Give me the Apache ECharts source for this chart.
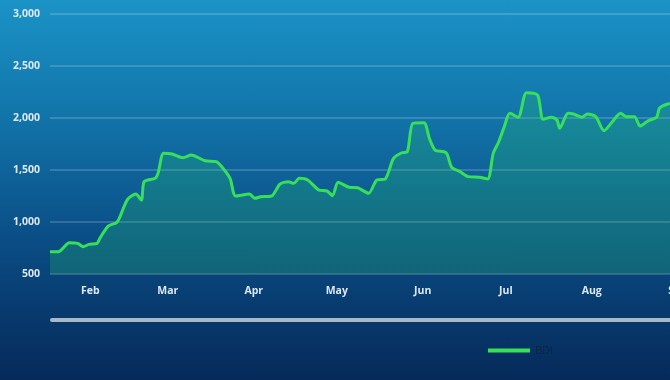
<!DOCTYPE html>
<html>
<head>
<meta charset="utf-8">
<script src="https://cdn.jsdelivr.net/npm/echarts@6/dist/echarts.min.js"></script>
<style>
html,body{margin:0;padding:0;width:670px;height:380px;overflow:hidden;
background:linear-gradient(180deg,#1b93c7 0%,#1275aa 30%,#0b5189 60%,#083c70 80%,#062a5a 100%);}
#c{width:720px;height:380px;}
</style>
</head>
<body>
<div id="c"></div>
<script>
const seriesName = 'BDI';
const monthLabels = ['Jan','Feb','Mar','Apr','May','Jun','Jul','Aug','Sep','Oct','Nov','Dec'];
const yTicks = [500, 1000, 1500, 2000, 2500, 3000];
const dates = [
 '2021-01-18','2021-01-21','2021-01-25','2021-01-28','2021-01-30','2021-02-01','2021-02-04','2021-02-05',
 '2021-02-08','2021-02-11','2021-02-12','2021-02-15','2021-02-18','2021-02-20','2021-02-21','2021-02-25',
 '2021-02-26','2021-02-28','2021-03-03','2021-03-07','2021-03-10','2021-03-15','2021-03-19','2021-03-21',
 '2021-03-24','2021-03-26','2021-03-31','2021-04-02','2021-04-04','2021-04-08','2021-04-11','2021-04-14',
 '2021-04-16','2021-04-18','2021-04-21','2021-04-25','2021-04-28','2021-04-30','2021-05-02','2021-05-06',
 '2021-05-09','2021-05-13','2021-05-16','2021-05-19','2021-05-22','2021-05-25','2021-05-27','2021-05-29',
 '2021-06-02','2021-06-04','2021-06-06','2021-06-10','2021-06-12','2021-06-15','2021-06-18','2021-06-22',
 '2021-06-25','2021-06-27','2021-06-29','2021-07-01','2021-07-03','2021-07-06','2021-07-09','2021-07-13',
 '2021-07-15','2021-07-18','2021-07-20','2021-07-21','2021-07-24','2021-07-26','2021-07-29','2021-07-31',
 '2021-08-03','2021-08-06','2021-08-09','2021-08-12','2021-08-14','2021-08-17','2021-08-19','2021-08-22',
 '2021-08-25','2021-08-26','2021-08-29','2021-09-02'
];
const values = [
 714,714,801,795,762,785,795,843,
 961,993,1035,1218,1269,1211,1388,1420,
 1468,1660,1654,1618,1644,1589,1580,1532,
 1420,1250,1269,1228,1243,1250,1365,1388,
 1372,1420,1404,1308,1298,1253,1382,1334,
 1330,1276,1404,1413,1612,1666,1676,1949,
 1955,1800,1692,1666,1526,1484,1436,1430,
 1413,1660,1772,1917,2045,2007,2243,2221,
 1987,2007,1981,1901,2045,2038,2007,2038,
 2013,1878,1964,2045,2013,2013,1923,1974,
 2007,2093,2135,2150
];
const xMin = '2021-01-18';
const xMax = '2021-09-10';

const chart = echarts.init(document.getElementById('c'), null, {renderer:'canvas'});
const DAY = 86400000;
chart.setOption({
  backgroundColor: 'transparent',
  animation: false,
  grid: {left: 50, right: 19, top: 14, height: 260, containLabel: false},
  xAxis: {
    type: 'time', min: xMin, max: xMax,
    minInterval: 28*DAY, maxInterval: 31*DAY, splitNumber: 8,
    axisLine: {show: false}, axisTick: {show: false}, splitLine: {show: false},
    axisLabel: {
      color: '#dce9f2', fontSize: 10.5, fontWeight: 'bold', fontFamily: 'Open Sans', margin: 12,
      padding: [0, 0, 0, 3], hideOverlap: false,
      formatter: v => monthLabels[new Date(v).getMonth()]
    }
  },
  yAxis: {
    type: 'value', min: yTicks[0], max: yTicks[yTicks.length-1], interval: 500,
    axisLine: {show: false}, axisTick: {show: false},
    splitLine: {lineStyle: {color: 'rgba(255,255,255,0.22)', width: 1.5}},
    axisLabel: {
      color: '#dce9f2', fontSize: 10.5, fontWeight: 'bold', fontFamily: 'Open Sans', margin: 10,
      formatter: v => v.toLocaleString('en-US')
    }
  },
  legend: {
    left: 483, top: 340, icon: 'rect', itemWidth: 42, itemHeight: 4, itemGap: 6,
    textStyle: {color: '#0d2547', fontSize: 11, fontFamily: 'Open Sans'},
    data: [seriesName]
  },
  graphic: [{
    type: 'rect', left: 50, top: 318, shape: {width: 680, height: 4, r: 2},
    style: {fill: '#a9b8c8'}
  }],
  series: [{
    name: seriesName, type: 'line', showSymbol: false, smooth: 0.25,
    data: dates.map((d, i) => [d, values[i]]),
    lineStyle: {color: '#38e05a', width: 3},
    itemStyle: {color: '#38e05a'},
    areaStyle: {color: 'rgba(40,200,110,0.36)'}
  }]
});
</script>
</body>
</html>
